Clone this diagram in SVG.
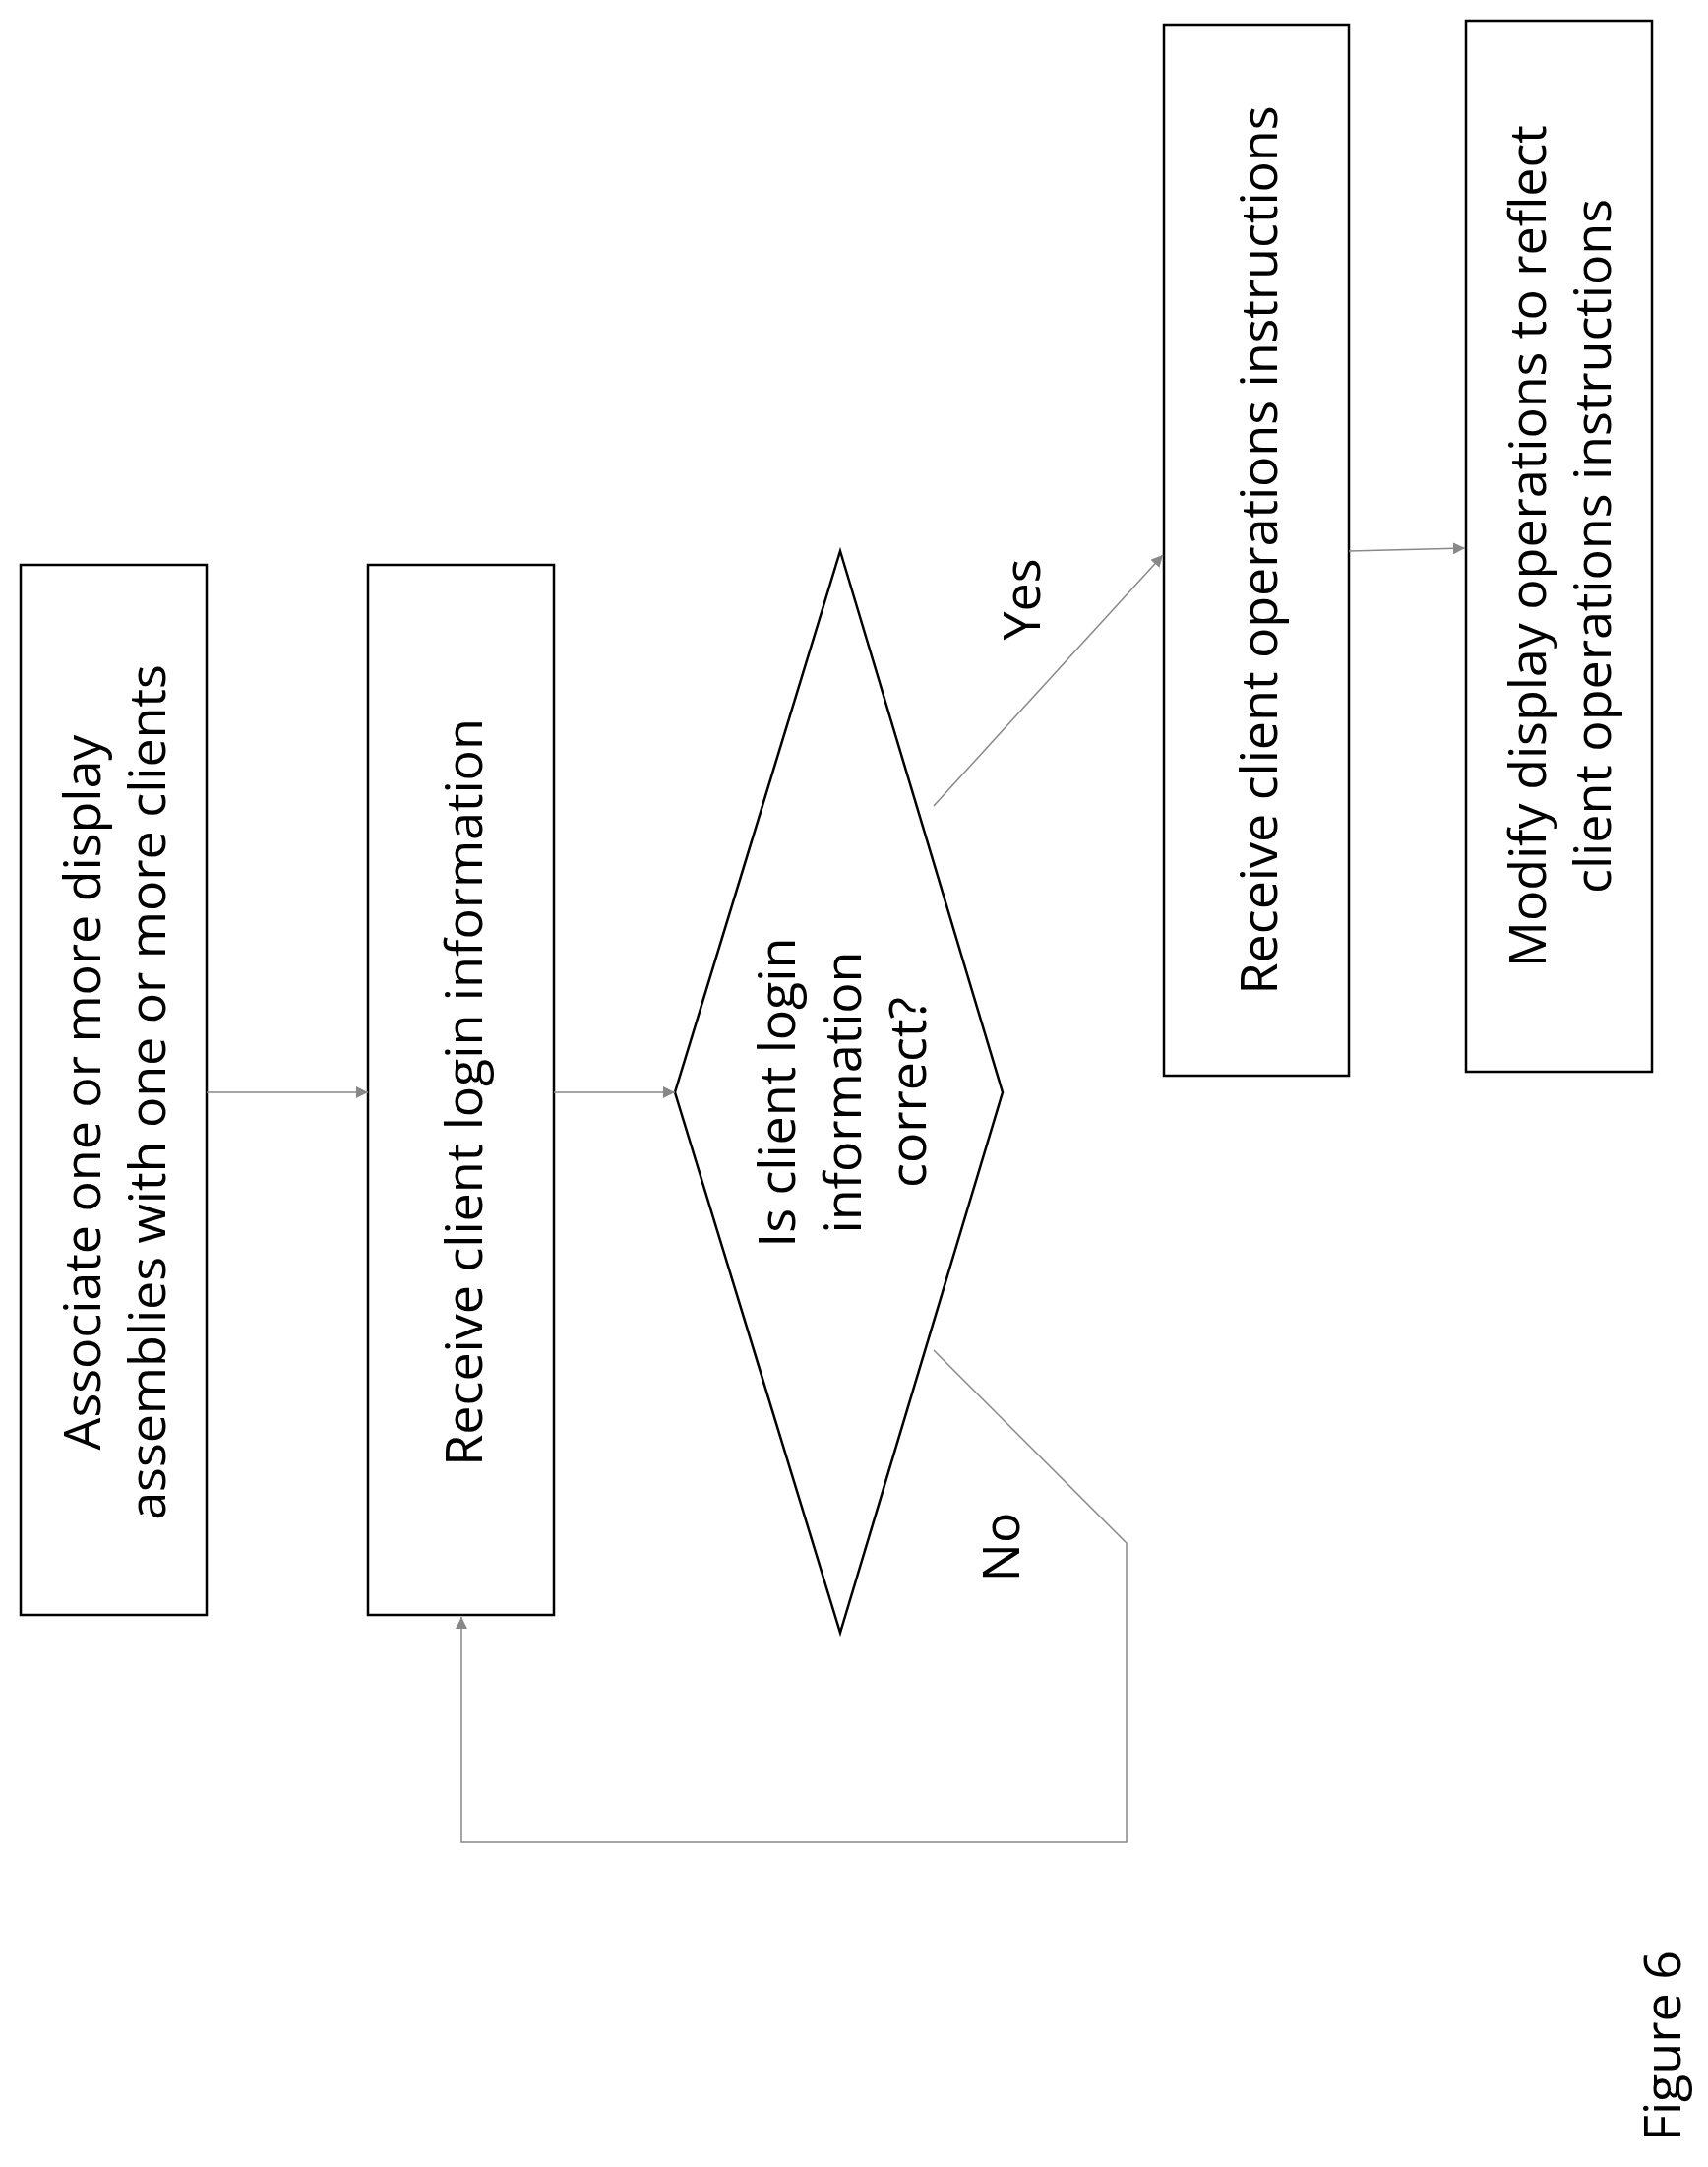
<svg xmlns="http://www.w3.org/2000/svg" width="1736" height="2202" viewBox="0 0 1736 2202">
<style>
.b{fill:#fff;stroke:#000;stroke-width:2.5}
.t{font-family:"Open Sans",sans-serif;font-size:52px;fill:#000;text-anchor:middle;dominant-baseline:central}
.c{fill:none;stroke:#888;stroke-width:1.5;marker-end:url(#a)}
</style>
<defs><marker id="a" viewBox="0 0 10 10" refX="10" refY="5" markerWidth="12" markerHeight="12" markerUnits="userSpaceOnUse" orient="auto"><path d="M0,0L10,5L0,10z" fill="#888"/></marker></defs>
<rect width="1736" height="2202" fill="#fff"/>
<g id="n1"><rect class="b" x="21" y="574" width="189" height="1067"/>
<text class="t" transform="translate(81,1110) rotate(-90)">Associate one or more display</text>
<text class="t" transform="translate(147,1110) rotate(-90)">assemblies with one or more clients</text></g>
<g id="n2"><rect class="b" x="374" y="574" width="189" height="1067"/>
<text class="t" transform="translate(469,1110) rotate(-90)">Receive client login information</text></g>
<g id="n3"><polygon class="b" points="854,560 1019,1110 854,1659 686,1110"/>
<text class="t" transform="translate(787,1110) rotate(-90)">Is client login</text>
<text class="t" transform="translate(854,1110) rotate(-90)">information</text>
<text class="t" transform="translate(920,1110) rotate(-90)">correct?</text></g>
<g id="n4"><rect class="b" x="1183" y="25" width="188" height="1068"/>
<text class="t" transform="translate(1277,559) rotate(-90)">Receive client operations instructions</text></g>
<g id="n5"><rect class="b" x="1490" y="21" width="189" height="1068"/>
<text class="t" transform="translate(1550,555) rotate(-90)">Modify display operations to reflect</text>
<text class="t" transform="translate(1616,555) rotate(-90)">client operations instructions</text></g>
<g id="connectors">
<line class="c" x1="210" y1="1110" x2="374" y2="1110"/>
<line class="c" x1="563" y1="1110" x2="686" y2="1110"/>
<line class="c" x1="949" y1="819" x2="1182" y2="564"/>
<line class="c" x1="1371" y1="560" x2="1489" y2="557"/>
<polyline class="c" points="949,1372 1145,1568 1145,1872 469,1872 469,1643"/>
</g>
<text class="t" transform="translate(1036,609) rotate(-90)">Yes</text>
<text class="t" transform="translate(1015,1572) rotate(-90)">No</text>
<text class="t" transform="translate(1687,2079) rotate(-90)">Figure 6</text>
</svg>
